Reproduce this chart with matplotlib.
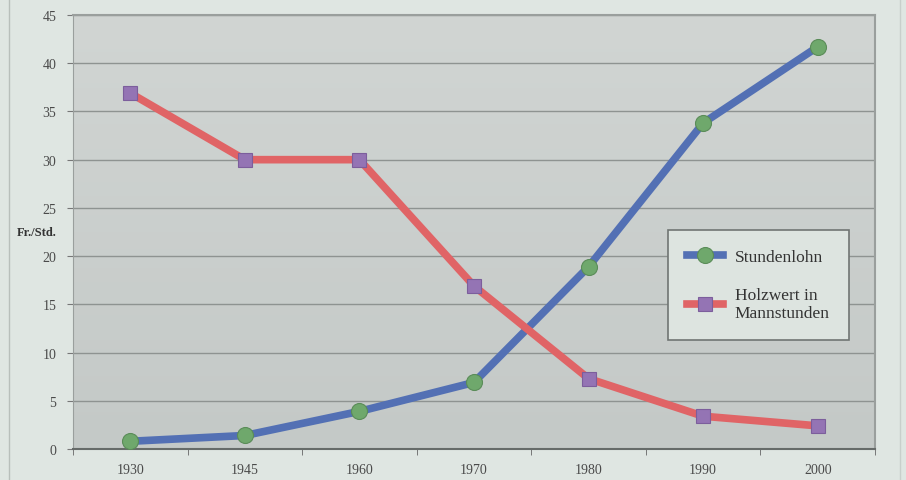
import numpy as np
import matplotlib.pyplot as plt
from matplotlib.lines import Line2D

plt.rcParams['font.family'] = ['Liberation Serif', 'DejaVu Serif']

years = ['1930', '1945', '1960', '1970', '1980', '1990', '2000']
stundenlohn = [0.8, 1.4, 3.9, 6.9, 18.9, 33.8, 41.7]
holzwert = [36.9, 30.0, 30.0, 16.9, 7.3, 3.4, 2.4]

bg = '#dfe6e2'
fig = plt.figure(figsize=(9.06, 4.81), dpi=100, facecolor=bg)
ax = fig.add_axes([73 / 906, 1 - 450 / 481, 802 / 906, 434 / 481])

# plot area with a soft vertical gradient
grad = np.linspace(0, 1, 256).reshape(-1, 1)
ax.imshow(grad, extent=[-0.5, 6.5, 0, 45], aspect='auto', origin='lower',
          cmap=plt.matplotlib.colors.LinearSegmentedColormap.from_list(
              'g', ['#c4c9c7', '#d1d5d3']), zorder=0)

x = np.arange(len(years))
ax.plot(x, stundenlohn, color='#5370b4', lw=5.5, zorder=3,
        marker='o', ms=11.5, mfc='#6fa86c', mec='#5a8c58', mew=0.8)
ax.plot(x, holzwert, color='#e06466', lw=5.5, zorder=3,
        marker='s', ms=9.5, mfc='#9474b4', mec='#7c5e9c', mew=0.8)

ax.set_xlim(-0.5, 6.5)
ax.set_ylim(0, 45)
ax.set_yticks(np.arange(0, 46, 5))
ax.yaxis.grid(True, color='#8e9391', lw=1)
ax.set_axisbelow(True)
ax.set_xticks(x)
ax.set_xticklabels(years)
ax.set_xticks(np.arange(-0.5, 7, 1), minor=True)
ax.tick_params(axis='x', which='major', length=0, pad=10, labelsize=10, labelcolor='#4a4a4a')
ax.tick_params(axis='x', which='minor', length=4, color='#666')
ax.tick_params(axis='y', length=4, color='#777', labelsize=10, labelcolor='#4a4a4a', pad=8)

for side in ['top', 'right']:
    ax.spines[side].set_color('#9a9f9d')
    ax.spines[side].set_linewidth(1.5)
ax.spines['left'].set_color('#9a9f9d')
ax.spines['bottom'].set_color('#666b69')
ax.spines['bottom'].set_linewidth(1.5)

fig.text(17 / 906, 1 - 233 / 481, 'Fr./Std.', fontsize=9, fontweight='bold',
         color='#333', va='center', ha='left')

# faint frame lines
fig.add_artist(Line2D([9 / 906, 9 / 906], [0, 1], color='#b8bfbb', lw=1))
fig.add_artist(Line2D([900 / 906, 900 / 906], [0, 1], color='#c8cfcb', lw=1))

handles = [
    Line2D([], [], color='#5370b4', lw=5.5, marker='o', ms=11.5, mfc='#6fa86c',
           mec='#5a8c58', mew=0.8),
    Line2D([], [], color='#e06466', lw=5.5, marker='s', ms=9.5, mfc='#9474b4',
           mec='#7c5e9c', mew=0.8),
]
leg = ax.legend(handles, ['Stundenlohn', 'Holzwert in\nMannstunden'],
                loc='upper left', bbox_to_anchor=((668 - 73) / 802, (450 - 231) / 434),
                borderaxespad=0, frameon=True, fancybox=False, fontsize=12.5,
                handlelength=2.05, borderpad=1.1, labelspacing=1.25, handletextpad=0.7,
                facecolor='#dde4e0', edgecolor='#707573', framealpha=1)
leg.get_frame().set_linewidth(1.2)
for t in leg.get_texts():
    t.set_color('#333')

fig.savefig('out.png', dpi=100, facecolor=bg)
